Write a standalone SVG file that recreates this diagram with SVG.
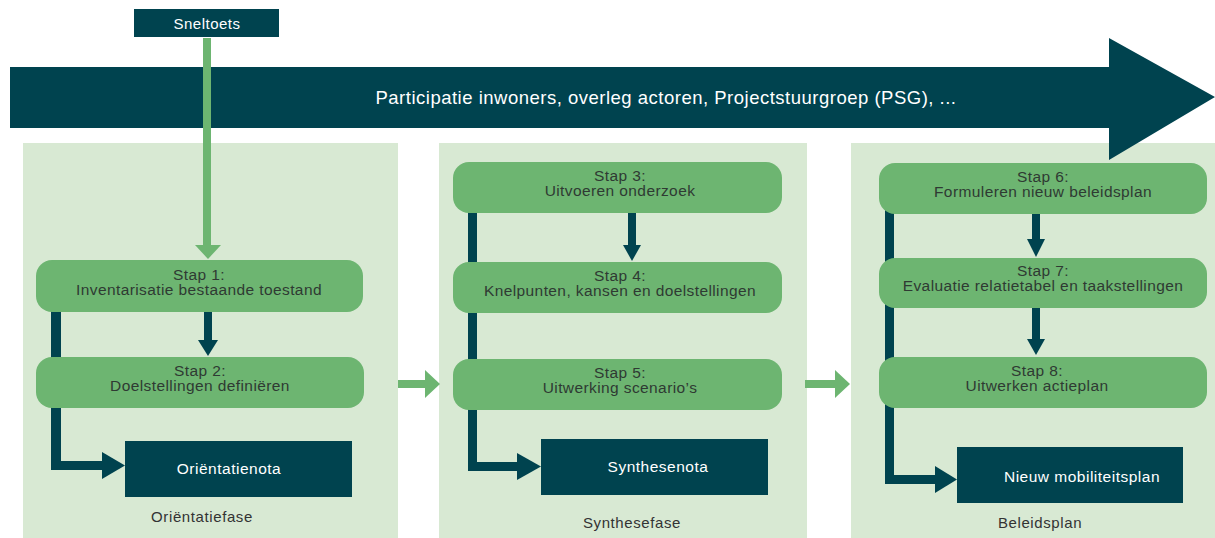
<svg xmlns="http://www.w3.org/2000/svg" width="1215" height="538" viewBox="0 0 1215 538">
<style>
.panel{fill:#d8e9d3}
.step{fill:#6db571}
.dark{fill:#00434f}
.garrow{fill:#6db571}
.st{font-family:"Liberation Sans",Arial,sans-serif;font-size:15.5px;letter-spacing:0.4px;fill:#2f3a33;text-anchor:middle}
.wt{font-family:"Liberation Sans",Arial,sans-serif;font-size:15.5px;letter-spacing:0.5px;fill:#ffffff;text-anchor:middle}
.lbl{font-family:"Liberation Sans",Arial,sans-serif;font-size:15px;letter-spacing:0.6px;fill:#333333;text-anchor:middle}
</style>
<rect width="1215" height="538" fill="#ffffff"/>
<g id="phase-panels">
<rect id="panel-orientatie" class="panel" x="23" y="143" width="375" height="395"/>
<rect id="panel-synthese" class="panel" x="439" y="143" width="368" height="395"/>
<rect id="panel-beleid" class="panel" x="851" y="143" width="364" height="395"/>
</g>
<g id="participatie">
<polygon class="dark" points="10,67 1109,67 1109,38 1215,97 1109,160 1109,128 10,128"/>
<text x="666" y="104" font-family="'Liberation Sans',Arial,sans-serif" font-size="18.5" letter-spacing="0.5" fill="#ffffff" text-anchor="middle">Participatie inwoners, overleg actoren, Projectstuurgroep (PSG), ...</text>
</g>
<g id="connectors">
<rect class="garrow" x="203" y="38" width="8" height="208"/>
<polygon class="garrow" points="195,245 221,245 208,259"/>
<rect class="garrow" x="398" y="380" width="28" height="8"/>
<polygon class="garrow" points="425,370 440,384 425,398"/>
<rect class="garrow" x="805" y="380" width="31" height="8"/>
<polygon class="garrow" points="835,370 850,384 835,398"/>
<rect class="dark" x="51" y="300" width="10" height="170"/>
<rect class="dark" x="51" y="461" width="52" height="9"/>
<polygon class="dark" points="102,452 125,465.5 102,479"/>
<rect class="dark" x="204" y="305" width="8" height="36"/>
<polygon class="dark" points="198,340 218,340 208,356"/>
<rect class="dark" x="468" y="200" width="9" height="271"/>
<rect class="dark" x="468" y="462" width="50" height="9"/>
<polygon class="dark" points="517,453 541,466.5 517,480"/>
<rect class="dark" x="628" y="208" width="8" height="38"/>
<polygon class="dark" points="623,245 641,245 632,261"/>
<rect class="dark" x="885" y="200" width="9" height="284"/>
<rect class="dark" x="885" y="475" width="51" height="9"/>
<polygon class="dark" points="935,466 957,479.5 935,493"/>
<rect class="dark" x="1032" y="203" width="8" height="37"/>
<polygon class="dark" points="1027,239 1045,239 1036,257"/>
<rect class="dark" x="1032" y="300" width="8" height="40"/>
<polygon class="dark" points="1027,339 1045,339 1036,355"/>
</g>
<g id="sneltoets">
<rect class="dark" x="134" y="9" width="145" height="28"/>
<text class="wt" x="207" y="29" style="font-size:15px">Sneltoets</text>
</g>
<g id="stap1">
<rect class="step" x="36" y="260" width="327" height="52" rx="16"/>
<text class="st" x="199" y="280">Stap 1:</text>
<text class="st" x="199" y="295">Inventarisatie bestaande toestand</text>
</g>
<g id="stap2">
<rect class="step" x="36" y="357" width="328" height="51" rx="16"/>
<text class="st" x="200" y="376">Stap 2:</text>
<text class="st" x="200" y="391">Doelstellingen definiëren</text>
</g>
<g id="orientatienota">
<rect class="dark" x="125" y="441" width="227" height="56"/>
<text class="wt" x="229" y="474">Oriëntatienota</text>
</g>
<text id="label-orientatiefase" class="lbl" x="202" y="522">Oriëntatiefase</text>
<g id="stap3">
<rect class="step" x="453" y="162" width="329" height="51" rx="16"/>
<text class="st" x="620" y="181">Stap 3:</text>
<text class="st" x="620" y="196">Uitvoeren onderzoek</text>
</g>
<g id="stap4">
<rect class="step" x="453" y="262" width="329" height="51" rx="16"/>
<text class="st" x="620" y="281">Stap 4:</text>
<text class="st" x="620" y="296">Knelpunten, kansen en doelstellingen</text>
</g>
<g id="stap5">
<rect class="step" x="453" y="359" width="329" height="51" rx="16"/>
<text class="st" x="620" y="378">Stap 5:</text>
<text class="st" x="620" y="393">Uitwerking scenario’s</text>
</g>
<g id="synthesenota">
<rect class="dark" x="541" y="439" width="227" height="56"/>
<text class="wt" x="658" y="472">Synthesenota</text>
</g>
<text id="label-synthesefase" class="lbl" x="632" y="528">Synthesefase</text>
<g id="stap6">
<rect class="step" x="879" y="163" width="328" height="51" rx="16"/>
<text class="st" x="1043" y="182">Stap 6:</text>
<text class="st" x="1043" y="197">Formuleren nieuw beleidsplan</text>
</g>
<g id="stap7">
<rect class="step" x="879" y="258" width="328" height="50" rx="16"/>
<text class="st" x="1043" y="276">Stap 7:</text>
<text class="st" x="1043" y="291">Evaluatie relatietabel en taakstellingen</text>
</g>
<g id="stap8">
<rect class="step" x="879" y="357" width="328" height="51" rx="16"/>
<text class="st" x="1037" y="376">Stap 8:</text>
<text class="st" x="1037" y="391">Uitwerken actieplan</text>
</g>
<g id="mobiliteitsplan">
<rect class="dark" x="957" y="447" width="226" height="56"/>
<text class="wt" x="1082" y="482">Nieuw mobiliteitsplan</text>
</g>
<text id="label-beleidsplan" class="lbl" x="1040" y="528">Beleidsplan</text>
</svg>
